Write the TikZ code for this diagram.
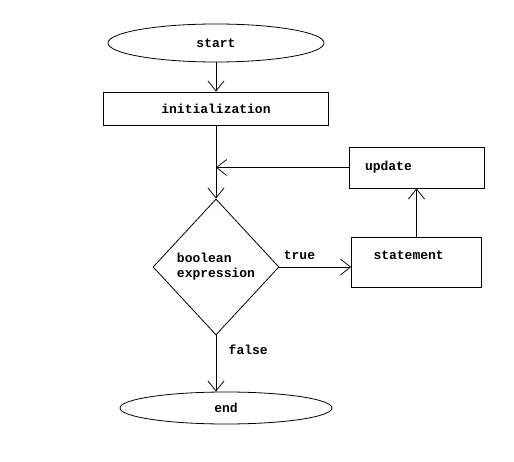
\documentclass[tikz,border=0pt]{standalone}
\usepackage{fontspec}
\setmonofont{Liberation Mono}
\usetikzlibrary{shapes.geometric, arrows.meta}

\begin{document}
\begin{tikzpicture}[x=1pt,y=-1pt,line width=0.8pt,
            every node/.style={font=\ttfamily\bfseries\fontsize{13}{15}\selectfont},
            term/.style={draw,ellipse,inner sep=0pt},
            stepbox/.style={draw,rectangle,inner sep=0pt},
            test/.style={draw,diamond,inner sep=0pt,minimum width=126pt,minimum height=136pt,align=left},
            arr/.style={-{Straight Barb[length=10pt,width=16pt]}}]
            \useasboundingbox[fill=white] (0,0) rectangle (514,462);
            \node[term,minimum width=216pt,minimum height=38pt] (start) at (216,43) {start};
            \node[stepbox,minimum width=225pt,minimum height=33pt] (init) at (216,108.5) {initialization};
            \node[test] (cond) at (216,267) {boolean\\expression};
            \node[stepbox,minimum width=130pt,minimum height=50pt,text width=86pt,align=left,
                  text height=9pt,text depth=14pt] (stmt) at (416.5,262) {statement};
            \node[stepbox,minimum width=135pt,minimum height=41pt,text width=103pt,align=left] (upd) at (416.5,167.5) {update};
            \node[term,minimum width=212pt,minimum height=32pt] (stop) at (226,408) {end};
            \coordinate (merge) at (init.south |- upd.west);
            \draw[arr] (start) -- (init);
            \draw[arr] (init) -- (cond);
            \draw[arr] (upd.west) -- (merge);
            \draw[arr] (cond.east) -- node[above=4pt,pos=0.28] (ltrue) {true} (cond.east -| stmt.west);
            \draw[arr] (stmt) -- (upd);
            \draw[arr] (cond.south) -- node[right=9pt,pos=0.25] (lfalse) {false} (cond.south |- stop.north);
        \end{tikzpicture}
\end{document}
